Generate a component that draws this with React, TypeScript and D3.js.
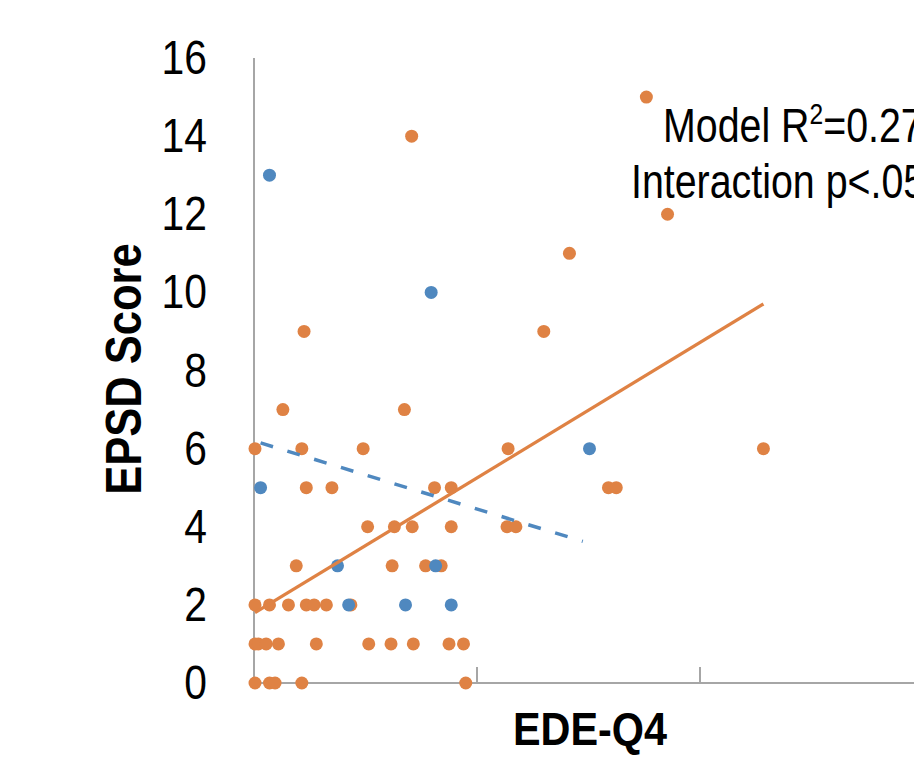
import React from "react";
import * as d3 from "d3";

// ---- data ----
const orangeX = [
  3.51, 1.405, 3.7, 2.82, 0.44, 2.59, 0.25, 1.34,
  0, 0.42, 0.97, 2.27, 4.56,
  0.46, 0.69, 1.61, 1.76, 3.17, 3.24,
  1.01, 1.25, 1.41, 1.76, 2.26, 2.34,
  0.37, 1.23, 1.53, 1.67,
  0, 0.13, 0.3, 0.46, 0.53, 0.64, 0.86,
  0, 0.03, 0.1, 0.21, 0.55, 1.02, 1.22, 1.42, 1.74, 1.87,
  0, 0.13, 0.18, 0.42, 1.89,
];
const orangeY = [
  15, 14, 12, 11, 9, 9, 7, 7,
  6, 6, 6, 6, 6,
  5, 5, 5, 5, 5, 5,
  4, 4, 4, 4, 4, 4,
  3, 3, 3, 3,
  2, 2, 2, 2, 2, 2, 2,
  1, 1, 1, 1, 1, 1, 1, 1, 1, 1,
  0, 0, 0, 0, 0,
];
const blueX = [0.13, 1.58, 3.0, 0.05, 0.74, 1.62, 0.84, 1.35, 1.76];
const blueY = [13, 10, 6, 5, 3, 3, 2, 2, 2];

// trend lines: [intercept, slope, xStart, xEnd]
const orangeTrend = [1.8, 1.733, 0, 4.56];
const blueTrend = [6.19, -0.872, 0.05, 2.94];

const yTicks = [0, 2, 4, 6, 8, 10, 12, 14, 16];
const xTicks = [0, 2, 4, 6];

const xTitle = "EDE-Q4";
const yTitle = "EPSD Score";
const noteLine1 = ["Model R", "2", "=0.27"];
const noteLine2 = "Interaction p<.05";

const ORANGE = "#DF8244";
const BLUE = "#4F88BF";
const AXIS = "#A6A6A6";
const FONT = "'Liberation Sans', Arial, sans-serif";

export default function App() {
  const W = 914;
  const H = 758;
  const x = d3.scaleLinear().domain([0, 6]).range([255, 924]);
  const y = d3.scaleLinear().domain([0, 16]).range([683, 58]);

  const trendPath = (t: number[]) => {
    const [b0, b1, x0, x1] = t;
    const line = d3
      .line<number>()
      .x((d) => x(d))
      .y((d) => y(b0 + b1 * d));
    return line([x0, x1]) || "";
  };

  const orange = orangeX.map((v, i) => ({ x: v, y: orangeY[i] }));
  const blue = blueX.map((v, i) => ({ x: v, y: blueY[i] }));

  return (
    <svg
      width={W}
      height={H}
      style={{ position: "absolute", left: 0, top: 0, overflow: "hidden", background: "#fff" }}
      fontFamily={FONT}
    >
      <rect x={0} y={0} width={W} height={H} fill="#fff" />
      {/* axes */}
      <line x1={x(0) - 1} x2={x(0) - 1} y1={y(16)} y2={y(0)} stroke={AXIS} strokeWidth={2} />
      <line x1={x(0) - 1} x2={W + 20} y1={y(0)} y2={y(0)} stroke={AXIS} strokeWidth={2} />
      {xTicks.map((t) => (
        <line key={t} x1={x(t) - 1} x2={x(t) - 1} y1={y(0)} y2={y(0) - 16} stroke={AXIS} strokeWidth={2} />
      ))}
      {/* y tick labels */}
      {yTicks.map((t) => (
        <g key={t} transform={`translate(207,${y(t) + 16}) scale(0.85,1)`}>
          <text textAnchor="end" fontSize={48} fill="#000">
            {t}
          </text>
        </g>
      ))}
      {/* titles */}
      <g transform={`translate(141,369) rotate(-90) scale(0.87,1)`}>
        <text textAnchor="middle" fontSize={50} fontWeight="bold" fill="#000">
          {yTitle}
        </text>
      </g>
      <g transform={`translate(590,745) scale(0.9,1)`}>
        <text textAnchor="middle" fontSize={46} fontWeight="bold" fill="#000">
          {xTitle}
        </text>
      </g>
      {/* points */}
      {orange.map((d, i) => (
        <circle key={"o" + i} cx={x(d.x)} cy={y(d.y)} r={6.5} fill={ORANGE} />
      ))}
      {blue.map((d, i) => (
        <circle key={"b" + i} cx={x(d.x)} cy={y(d.y)} r={6.5} fill={BLUE} />
      ))}
      {/* trend lines */}
      <path d={trendPath(orangeTrend)} stroke={ORANGE} strokeWidth={3.3} fill="none" />
      <path d={trendPath(blueTrend)} stroke={BLUE} strokeWidth={3.5} fill="none" strokeDasharray="13,15" />
      {/* annotation */}
      <g transform={`translate(663,142) scale(0.82,1)`}>
        <text fontSize={48} fill="#000">
          {noteLine1[0]}
          <tspan fontSize={30} dy={-18}>{noteLine1[1]}</tspan>
          <tspan fontSize={48} dy={18}>{noteLine1[2]}</tspan>
        </text>
      </g>
      <g transform={`translate(631,198) scale(0.82,1)`}>
        <text fontSize={48} fill="#000">
          {noteLine2}
        </text>
      </g>
    </svg>
  );
}
